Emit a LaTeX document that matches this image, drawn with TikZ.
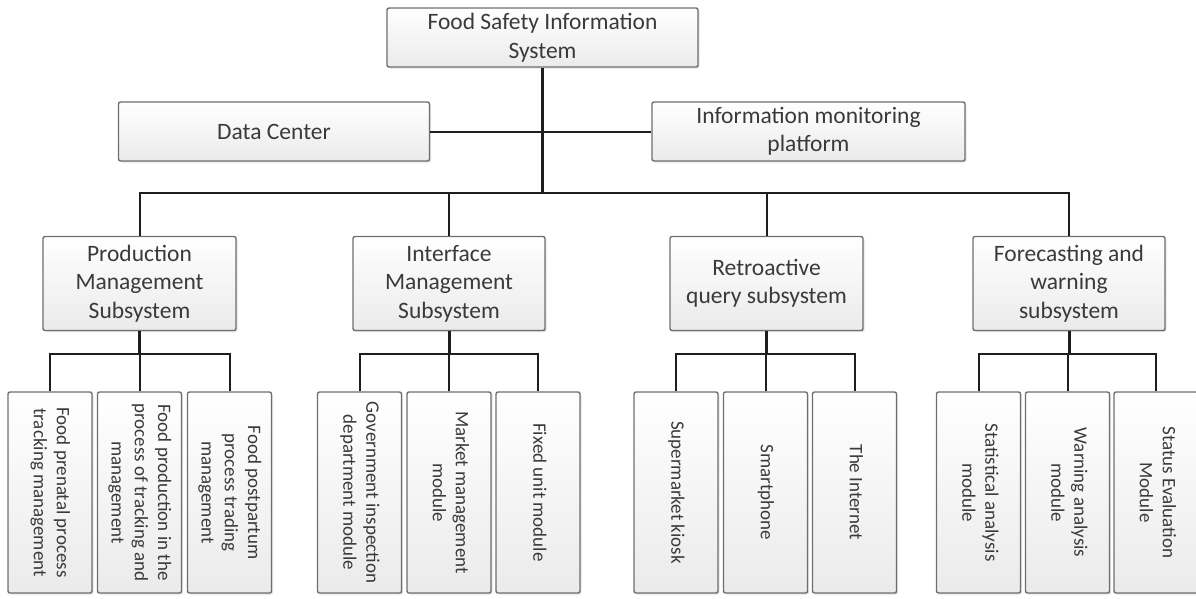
\documentclass[tikz,border=0pt]{standalone}
\usepackage{fontspec}
\setmainfont{Carlito}
\usepackage{graphicx}
\usetikzlibrary{shadows}
\definecolor{boxline}{HTML}{6E6E6E}
\definecolor{txt}{HTML}{3A3A3A}
\definecolor{wirec}{HTML}{1E1E1E}
\newcommand\vtext[1]{\rotatebox{-90}{\begin{tabular}{@{}c@{}}#1\end{tabular}}}
\tikzset{
  box/.style={draw=boxline, line width=1.4pt, rounded corners=2pt,
    top color=white, bottom color=gray!16,
    drop shadow={opacity=0.22, shadow xshift=1.5pt, shadow yshift=-1.5pt},
    inner sep=0pt, align=center, text=txt,
    font=\fontsize{23.5}{28.5}\selectfont},
  topbox/.style={box, minimum width=311pt, minimum height=59pt},
  sidebox/.style={box, minimum width=311pt, minimum height=59pt},
  subbox/.style={box, minimum width=193pt, minimum height=94pt},
  leafbox/.style={box, minimum width=84pt, minimum height=201pt,
    font=\fontsize{19}{23.2}\selectfont},
  wire/.style={draw=wirec, line width=2pt},
  mainwire/.style={draw=wirec, line width=3pt}
}
\begin{document}
\begin{tikzpicture}[x=1pt,y=-1pt]
\useasboundingbox (0,0) rectangle (1196,598);
\coordinate (bus) at (0,193);
\coordinate (sbus) at (0,354);
% top level
\node[topbox] (top) at (542.5,37.5) {Food Safety Information\\System};
\node[sidebox] (dc) at (274,131.5) {Data Center};
\node[sidebox, minimum width=313pt] (info) at (808.5,131.5) {Information monitoring\\platform};
% subsystems
\node[subbox] (prod) at (139.5,283.5) {Production\\Management\\Subsystem};
\node[subbox, minimum width=192pt] (intf) at (449,283.5) {Interface\\Management\\Subsystem};
\node[subbox] (retro) at (766.5,283.5) {Retroactive\\query subsystem};
\node[subbox, minimum width=192pt] (fore) at (1069,283.5) {Forecasting and\\warning\\subsystem};
% leaves
\node[leafbox] (p1) at (50,492.5) {\vtext{Food prenatal process\\tracking management}};
\node[leafbox] (p2) at (139.5,492.5) {\vtext{Food production in the\\process of tracking and\\management}};
\node[leafbox] (p3) at (229.5,492.5) {\vtext{Food postpartum\\process trading\\management}};
\node[leafbox] (i1) at (359.5,492.5) {\vtext{Government inspection\\department module}};
\node[leafbox] (i2) at (449,492.5) {\vtext{Market management\\module}};
\node[leafbox] (i3) at (538,492.5) {\vtext{Fixed unit module}};
\node[leafbox] (r1) at (676,492.5) {\vtext{Supermarket kiosk}};
\node[leafbox] (r2) at (765.5,492.5) {\vtext{Smartphone}};
\node[leafbox] (r3) at (854.5,492.5) {\vtext{The Internet}};
\node[leafbox] (f1) at (978.5,492.5) {\vtext{Statistical analysis\\module}};
\node[leafbox] (f2) at (1067.5,492.5) {\vtext{Warning analysis\\module}};
\node[leafbox] (f3) at (1156,492.5) {\vtext{Status Evaluation\\Module}};
% connectors
\draw[mainwire] (top.south) -- (top.south |- bus);
\draw[wire] (dc.east) -- (info.west);
\draw[wire] (prod.north) -- (prod.north |- bus) -| (fore.north);
\draw[wire] (intf.north) -- (intf.north |- bus);
\draw[wire] (retro.north) -- (retro.north |- bus);
\foreach \s/\a/\b/\c in {prod/p1/p2/p3, intf/i1/i2/i3, retro/r1/r2/r3, fore/f1/f2/f3}{
  \draw[mainwire] (\s.south) -- (\s.south |- sbus);
  \draw[wire] (\a.north) -- (\a.north |- sbus) -| (\c.north);
  \draw[wire] (\b.north) -- (\b.north |- sbus);
}
\end{tikzpicture}
\end{document}
